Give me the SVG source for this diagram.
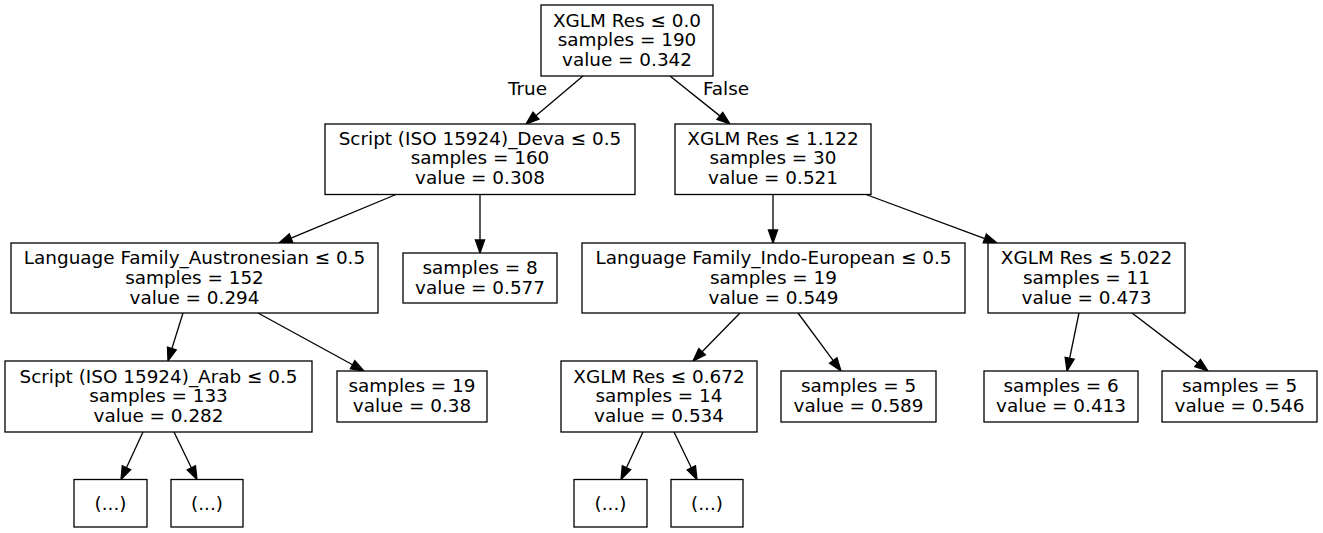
<svg xmlns="http://www.w3.org/2000/svg" width="1323" height="533" viewBox="0 0 1323 533">
<style>
.bg{fill:#ffffff}
.node rect{fill:#ffffff;stroke:#000000;stroke-width:1.3}
.node text,.lbl{font-family:"DejaVu Sans","Liberation Sans",sans-serif;font-size:18.4px;fill:#000000;text-anchor:middle}
.edge line{stroke:#000000;stroke-width:1.3}
.edge polygon{fill:#000000;stroke:#000000;stroke-width:1.3}
</style>
<rect class="bg" x="0" y="0" width="1323" height="533"/>
<g id="connectors" class="edge">
<line x1="583" y1="76" x2="535.94" y2="115.63"/><polygon points="526,124 532.98,112.11 538.90,119.15"/>
<line x1="670" y1="76" x2="719.85" y2="115.88"/><polygon points="730,124 716.97,119.47 722.72,112.29"/>
<line x1="396" y1="194.5" x2="291.03" y2="238.07"/><polygon points="279,243 289.28,233.81 292.78,242.33"/>
<line x1="480" y1="194.5" x2="480" y2="240"/><polygon points="480,253 475.4,240 484.6,240"/>
<line x1="773" y1="194.5" x2="773" y2="230"/><polygon points="773,243 768.4,230 777.6,230"/>
<line x1="866" y1="194.5" x2="984.79" y2="238.53"/><polygon points="997,243 983.21,242.85 986.37,234.21"/>
<line x1="183" y1="313" x2="171.88" y2="348.59"/><polygon points="168,361 167.49,347.22 176.27,349.96"/>
<line x1="258" y1="313" x2="352.60" y2="364.76"/><polygon points="364,371 350.39,368.79 354.81,360.73"/>
<line x1="740" y1="313" x2="702.1" y2="351.71"/><polygon points="693,361 698.81,348.49 705.39,354.93"/>
<line x1="798" y1="313" x2="833.26" y2="360.56"/><polygon points="841,371 829.56,363.30 836.96,357.82"/>
<line x1="1079" y1="313" x2="1069.64" y2="358.27"/><polygon points="1067,371 1065.14,357.34 1074.14,359.20"/>
<line x1="1132" y1="313" x2="1197.67" y2="363.11"/><polygon points="1208,371 1194.88,366.77 1200.46,359.45"/>
<line x1="143" y1="432" x2="126.46" y2="467.71"/><polygon points="121,479.5 122.29,465.78 130.63,469.64"/>
<line x1="174" y1="432" x2="191.33" y2="467.80"/><polygon points="197,479.5 187.19,469.81 195.47,465.79"/>
<line x1="643" y1="432" x2="626.46" y2="467.71"/><polygon points="621,479.5 622.29,465.78 630.63,469.64"/>
<line x1="674" y1="432" x2="691.33" y2="467.80"/><polygon points="697,479.5 687.19,469.81 695.47,465.79"/>
<text class="lbl" x="527.5" y="95">True</text>
<text class="lbl" x="726" y="95">False</text>
</g>
<g id="n0" class="node"><rect x="541" y="5" width="172" height="71"/><text x="627" y="26.6">XGLM Res ≤ 0.0</text><text x="627" y="46.2">samples = 190</text><text x="627" y="65.8">value = 0.342</text></g>
<g id="n1" class="node"><rect x="325" y="124" width="310" height="70.5"/><text x="480" y="144.8">Script (ISO 15924)_Deva ≤ 0.5</text><text x="480" y="164.4">samples = 160</text><text x="480" y="184">value = 0.308</text></g>
<g id="n2" class="node"><rect x="675" y="124" width="196" height="70.5"/><text x="773" y="144.8">XGLM Res ≤ 1.122</text><text x="773" y="164.4">samples = 30</text><text x="773" y="184">value = 0.521</text></g>
<g id="n3" class="node"><rect x="11" y="243" width="367" height="70"/><text x="194.5" y="264.4">Language Family_Austronesian ≤ 0.5</text><text x="194.5" y="284">samples = 152</text><text x="194.5" y="303.6">value = 0.294</text></g>
<g id="n4" class="node"><rect x="403" y="253" width="154" height="50"/><text x="480" y="274">samples = 8</text><text x="480" y="293.6">value = 0.577</text></g>
<g id="n5" class="node"><rect x="582" y="243" width="383" height="70"/><text x="773.5" y="264.4">Language Family_Indo-European ≤ 0.5</text><text x="773.5" y="284">samples = 19</text><text x="773.5" y="303.6">value = 0.549</text></g>
<g id="n6" class="node"><rect x="988" y="243" width="197" height="70"/><text x="1086.5" y="264.4">XGLM Res ≤ 5.022</text><text x="1086.5" y="284">samples = 11</text><text x="1086.5" y="303.6">value = 0.473</text></g>
<g id="n7" class="node"><rect x="5" y="361" width="307" height="71"/><text x="158.5" y="382.6">Script (ISO 15924)_Arab ≤ 0.5</text><text x="158.5" y="402.2">samples = 133</text><text x="158.5" y="421.8">value = 0.282</text></g>
<g id="n8" class="node"><rect x="337" y="371" width="150" height="51"/><text x="412" y="392.2">samples = 19</text><text x="412" y="411.8">value = 0.38</text></g>
<g id="n9" class="node"><rect x="561" y="361" width="196" height="71"/><text x="659" y="382.6">XGLM Res ≤ 0.672</text><text x="659" y="402.2">samples = 14</text><text x="659" y="421.8">value = 0.534</text></g>
<g id="n10" class="node"><rect x="781" y="371" width="155" height="51"/><text x="858.5" y="392.2">samples = 5</text><text x="858.5" y="411.8">value = 0.589</text></g>
<g id="n11" class="node"><rect x="984" y="371" width="154" height="51"/><text x="1061" y="392.2">samples = 6</text><text x="1061" y="411.8">value = 0.413</text></g>
<g id="n12" class="node"><rect x="1162" y="371" width="155" height="51"/><text x="1239.5" y="392.2">samples = 5</text><text x="1239.5" y="411.8">value = 0.546</text></g>
<g id="n13" class="node"><rect x="74" y="479.5" width="73" height="47.5"/><text x="110.5" y="509.5">(...)</text></g>
<g id="n14" class="node"><rect x="171" y="479.5" width="72" height="47.5"/><text x="207" y="509.5">(...)</text></g>
<g id="n15" class="node"><rect x="574" y="479.5" width="73" height="47.5"/><text x="610.5" y="509.5">(...)</text></g>
<g id="n16" class="node"><rect x="671" y="479.5" width="72" height="47.5"/><text x="707" y="509.5">(...)</text></g>
</svg>
